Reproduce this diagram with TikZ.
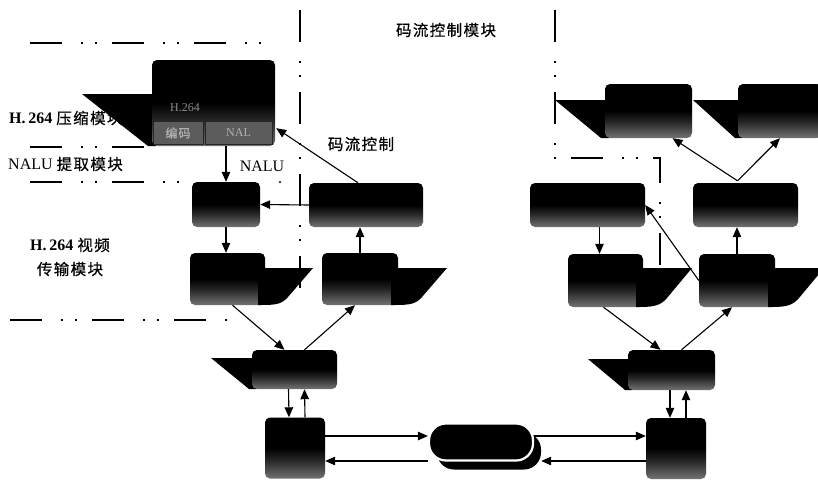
\documentclass[tikz,border=0pt]{standalone}
\usepackage{fontspec}
\setmainfont{Liberation Serif}
\newfontfamily\cjk{Noto Sans CJK SC}[LetterSpace=9, FakeBold=0.6]
\usetikzlibrary{arrows.meta,calc}
\pgfdeclareverticalshading{boxshade}{100bp}{color(0bp)=(black!55); color(25bp)=(black!55); color(40bp)=(black!85); color(50bp)=(black); color(100bp)=(black)}
\tikzset{
  blk/.style={shading=boxshade, shade, rounded corners=5pt, inner sep=0pt, draw=none},
  flag/.style={fill=black},
  arr/.style={line width=1.1pt, -{Triangle[length=10pt,width=8.5pt]}},
  dd/.style={line width=1.4pt, dash pattern=on 32pt off 19pt on 2pt off 12pt on 2pt off 15pt},
  lbl/.style={inner sep=0pt, font=\fontsize{16pt}{18pt}\selectfont},
  cjkf/.style={font=\fontsize{15.5pt}{18pt}\selectfont\cjk},
  cell/.style={fill=black!64, draw=black!85, line width=0.8pt, inner sep=0pt, text=black!30, font=\fontsize{12pt}{14pt}\selectfont},
}
\begin{document}
\begin{tikzpicture}[x=1pt,y=-1pt]
\fill[white] (0,0) rectangle (818,479);
\useasboundingbox (0,0) rectangle (818,479);

% dash-dot module borders
\draw[dd] (30,43) -- (265,43);
\draw[dd] (30,147) -- (150,147);
\draw[dd] (30,182) -- (185,182);
\fill (280,182) circle (1.2pt);
\draw[dd] (10,320) -- (235,320);
\draw[dd] (300,10) -- (300,305);
\draw[dd] (555,10) -- (555,158) -- (660,158) -- (660,268);

% labels
\node[lbl, anchor=west] (tH) at (9,118) {\textbf{H.\,264} {\cjk\fontsize{15.5pt}{18pt}\selectfont 压缩模块}};
\node[lbl, anchor=west] (tN) at (8,164) {NALU {\cjk\fontsize{15.5pt}{18pt}\selectfont 提取模块}};
\node[lbl] (tNALU) at (262,166) {NALU};
\node[cjkf, inner sep=0pt] (tCtl) at (361,144) {码流控制};
\node[lbl] (tV1) at (70,245) {\textbf{H.\,264} {\cjk\fontsize{15.5pt}{18pt}\selectfont 视频}};
\node[cjkf, inner sep=0pt] (tV2) at (70,269) {传输模块};
\node[cjkf, inner sep=0pt] (tTop) at (446,30) {码流控制模块};

% ---- left column ----
\fill[flag] (82,94) -- (156,94) -- (156,146) -- (148,146) -- cycle;
\node[blk, minimum width=123pt, minimum height=86pt] (A) at (213.5,103) {};
\node[text=black!45, inner sep=0pt, font=\fontsize{12pt}{14pt}\selectfont] (Ah) at (185,108) {H.264};
\node[cell, minimum width=50pt, minimum height=23pt] (Ac1) at (178,133) {\cjk 编码};
\node[cell, minimum width=67pt, minimum height=23pt] (Ac2) at (238.5,133) {NAL};

\node[blk, minimum width=68pt, minimum height=45pt] (B) at (226,204.5) {};
\node[blk, minimum width=114pt, minimum height=44pt] (C) at (366,205) {};

\node[blk, minimum width=75pt, minimum height=52pt] (D) at (227.5,279) {};
\fill[flag] (258,268) -- (313,268) -- (288,297) .. controls (282,304) and (276,305) .. (262,305) -- (258,305) -- cycle;
\node[blk, minimum width=76pt, minimum height=52pt] (E) at (360,279) {};
\fill[flag] (391,268) -- (447,268) -- (422,297) .. controls (416,304) and (410,305) .. (395,305) -- (391,305) -- cycle;

\fill[flag] (211,358) -- (256,358) -- (256,389) -- (249,389) -- cycle;
\node[blk, minimum width=85pt, minimum height=39pt] (F) at (294.5,369.5) {};
\node[blk, minimum width=60pt, minimum height=61pt] (G) at (295,448) {};

% ---- network ----
\node[fill=black, rounded corners=17pt, minimum width=104pt, minimum height=37pt, inner sep=0pt] (Ns) at (489,451) {};
\node[fill=black, draw=white, line width=2.2pt, rounded corners=17pt, minimum width=104pt, minimum height=37pt, inner sep=0pt] (N) at (481,442) {};

% ---- right column ----
\fill[flag] (555,100) -- (609,100) -- (609,138) -- (601,138) -- cycle;
\node[blk, minimum width=87pt, minimum height=54pt] (Jp) at (648.5,111) {};
\fill[flag] (693,100) -- (742,100) -- (742,138) -- (735,138) -- cycle;
\node[blk, minimum width=84pt, minimum height=54pt] (Kp) at (780,111) {};

\node[blk, minimum width=115pt, minimum height=44pt] (Hp) at (587.5,205) {};
\node[blk, minimum width=105pt, minimum height=44pt] (Ip) at (745.5,205) {};

\node[blk, minimum width=75pt, minimum height=53pt] (Dp) at (605.5,280.5) {};
\fill[flag] (636,268) -- (692,268) -- (667,298) .. controls (661,305) and (655,307) .. (640,307) -- (636,307) -- cycle;
\node[blk, minimum width=76pt, minimum height=53pt] (Ep) at (737,280.5) {};
\fill[flag] (768,268) -- (824,268) -- (799,298) .. controls (793,305) and (787,307) .. (772,307) -- (768,307) -- cycle;

\fill[flag] (588,359) -- (632,359) -- (632,390) -- (625,390) -- cycle;
\node[blk, minimum width=87pt, minimum height=40pt] (Fp) at (671.5,370) {};
\node[blk, minimum width=60pt, minimum height=61pt] (Gp) at (676,448.5) {};

% ---- connectors, left ----
\draw[arr] (B.north |- A.south) -- (B.north);
\draw[arr] ($(C.north)+(-8,0)$) -- ($(A.south east)+(1,-18)$);
\draw[arr] (C.west) -- (B.east);
\draw[arr] (B.south) -- (B.south |- D.north);
\draw[arr] (E.north) -- (E.north |- C.south);
\draw[arr] ($(D.south)+(5,0)$) -- ($(F.north)+(-10,0)$);
\draw[arr] ($(F.north)+(10,0)$) -- ($(E.south)+(-5,0)$);
\draw[arr] ($(F.south)+(-6,0)$) -- ($(G.north)+(-6,0)$);
\draw[arr] ($(G.north)+(10,0)$) -- ($(F.south)+(10,0)$);

% ---- connectors, network ----
\coordinate (t1) at ($(G.east)+(0,-12)$);
\coordinate (b1) at ($(G.east)+(0,13)$);
\draw[arr] (t1) -- (t1 -| N.west);
\draw[arr] (t1 -| N.east) -- (t1 -| Gp.west);
\draw[arr] (b1 -| Gp.west) -- (b1 -| Ns.east);
\draw[arr] (b1 -| N.west) -- (b1);

% ---- connectors, right ----
\draw[arr] ($(Fp.south)+(-1.5,0)$) -- ($(Gp.north)+(-6,0)$);
\draw[arr] ($(Gp.north)+(10,0)$) -- ($(Fp.south)+(14.5,0)$);
\draw[arr] ($(Dp.south)+(-2,0)$) -- ($(Fp.north)+(-11,0)$);
\draw[arr] ($(Fp.north)+(10,0)$) -- ($(Ep.south)+(-5,0)$);
\draw[arr] ($(Hp.south)+(12,0)$) -- ($(Dp.north)+(-6,0)$);
\draw[arr] (Ep.north) -- (Ep.north |- Ip.south);
\draw[arr] (Ep.west) -- (Hp.east);
\coordinate (v) at ($(Ip.north)+(-8,-2)$);
\draw[arr] (v) -- ($(Jp.south)+(24,0)$);
\draw[arr] (v) -- (Kp.south);
\end{tikzpicture}
\end{document}
